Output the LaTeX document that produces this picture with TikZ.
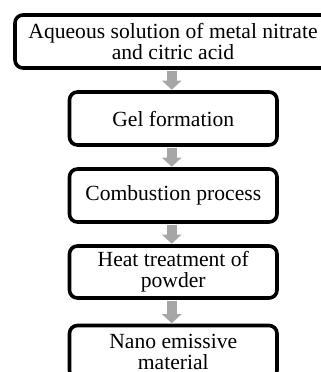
\documentclass[tikz,border=0pt]{standalone}
\usepackage{fontspec}
\setmainfont{Liberation Serif}
\usetikzlibrary{arrows.meta}
\definecolor{arrgray}{HTML}{A6A6A6}
\tikzset{
  stepbox/.style={draw=black, line width=3.6pt, rounded corners=8pt, fill=white,
    inner sep=0pt, align=center, minimum height=53pt,
    font=\fontsize{21.6}{21}\selectfont},
  blockarrow/.style={draw=arrgray, line width=10.5pt,
    -{Triangle[width=19pt,length=9pt]}, shorten <=1.5pt, shorten >=0.5pt}
}
\begin{document}
\begin{tikzpicture}[x=1pt,y=-1pt]
\useasboundingbox (0,0) rectangle (321,372);
\clip (0,0) rectangle (321,372);
\node[stepbox, minimum width=316pt] (b1) at (173,41.5) {Aqueous solution of metal nitrate\\and citric acid};
\node[stepbox, minimum width=207.5pt] (b2) at (173.25,118.5) {Gel formation};
\node[stepbox, minimum width=207.5pt] (b3) at (173.25,195.5) {Combustion process};
\node[stepbox, minimum width=207.5pt, minimum height=52pt] (b4) at (173.25,272) {Heat treatment of\\powder};
\node[stepbox, minimum width=207.5pt] (b5) at (173.25,352) {Nano emissive\\material};
\coordinate (a1s) at ([xshift=-1.5pt]b2.north |- b1.south);
\coordinate (a1e) at ([xshift=-1.5pt]b2.north);
\coordinate (a2s) at ([xshift=-1.5pt]b2.south);
\coordinate (a2e) at ([xshift=-1.5pt]b3.north);
\coordinate (a3s) at ([xshift=-1.5pt]b3.south);
\coordinate (a3e) at ([xshift=-1.5pt]b4.north);
\coordinate (a4s) at ([xshift=-1.5pt]b4.south);
\coordinate (a4e) at ([xshift=-1.5pt]b5.north);
\draw[blockarrow] (a1s) -- (a1e);
\draw[blockarrow] (a2s) -- (a2e);
\draw[blockarrow] (a3s) -- (a3e);
\draw[blockarrow] (a4s) -- (a4e);
\end{tikzpicture}
\end{document}
